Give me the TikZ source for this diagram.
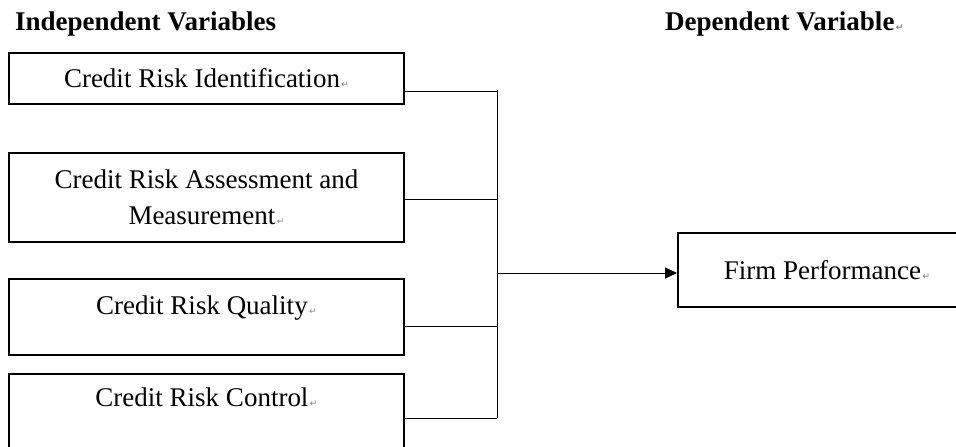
\documentclass[tikz,border=0pt]{standalone}
\usepackage{fontspec}
\setmainfont{Liberation Serif}
\newfontfamily\retfont{DejaVu Sans}
\usepackage{tikz}
\usetikzlibrary{arrows.meta,positioning}

\newcommand\retmark{{\fontsize{9}{9}\retfont\color{gray}\,↵}}

\tikzset{
varbox/.style={draw, line width=2pt, inner sep=0pt, minimum width=395pt,
  align=center, font=\fontsize{27}{36}\selectfont},
heading/.style={anchor=base west, inner sep=0pt, font=\fontsize{27}{32}\selectfont\bfseries},
link/.style={line width=1pt}
}

\begin{document}
\begin{tikzpicture}[x=1pt,y=-1pt]
\useasboundingbox (0,0) rectangle (956,447);

\node (indepTitle) [heading] at (15,30) {Independent Variables};
\node (depTitle) [heading] at (665,30) {Dependent Variable\retmark};

\node (identification) [varbox, anchor=north west, minimum height=51pt] at (8,52)
{Credit Risk Identification\retmark};
\node (assessment) [varbox, below=47pt of identification, minimum height=89pt]
{Credit Risk Assessment and\\ Measurement\retmark};
\node (quality) [varbox, below=35pt of assessment, text height=35pt, text depth=41pt]
{Credit Risk Quality\retmark};
\node (control) [varbox, below=17pt of quality, text height=32pt, text depth=60pt]
{Credit Risk Control\retmark};

\node (performance) [varbox, anchor=north west, minimum width=298pt, minimum height=74pt]
at (677,232) {Firm Performance\retmark};

\coordinate (busTop) at (497,90);
\coordinate (busBottom) at (497,418);
\coordinate (busMid) at (497,273);

\draw [link] (busTop) -- (busBottom);
\draw [link] ([yshift=-12.5pt]identification.east) -- ([yshift=-12.5pt]identification.east -| busTop);
\draw [link] ([yshift=-2pt]assessment.east) -- ([yshift=-2pt]assessment.east -| busTop);
\draw [link] ([yshift=-9pt]quality.east) -- ([yshift=-9pt]quality.east -| busTop);
\draw [link] (control.east |- busBottom) -- (busBottom);
\draw [link, -{Triangle[length=12pt,width=11pt]}] (busMid) -- (busMid -| performance.west);
\end{tikzpicture}
\end{document}
